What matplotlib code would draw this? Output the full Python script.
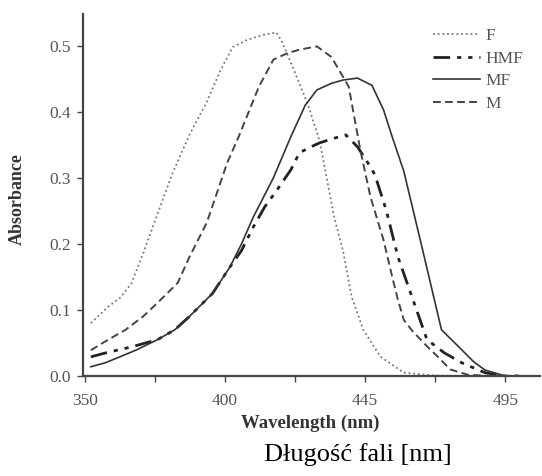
import matplotlib
matplotlib.use("Agg")
import matplotlib.pyplot as plt
import numpy as np

# absorbance spectra
f_x = [352, 358, 362, 366, 370, 375, 380, 386, 392, 397, 401, 406, 412, 416, 418, 422, 427, 431, 436, 439, 442, 446, 452, 460, 470, 480, 490, 502]
f_y = [0.08, 0.105, 0.118, 0.14, 0.185, 0.245, 0.305, 0.365, 0.415, 0.465, 0.498, 0.509, 0.517, 0.52, 0.506, 0.464, 0.41, 0.355, 0.24, 0.19, 0.12, 0.07, 0.029, 0.005, 0.001, 0.0, 0.0, 0.0]

hmf_x = [352, 358, 366, 375, 381, 386, 394, 400, 404, 408, 412, 416, 421, 424, 428, 431, 436, 440, 444, 447, 450, 454, 458, 464, 468, 474, 480, 488, 495, 502]
hmf_y = [0.029, 0.036, 0.044, 0.055, 0.07, 0.09, 0.125, 0.165, 0.19, 0.225, 0.256, 0.28, 0.312, 0.338, 0.347, 0.353, 0.36, 0.365, 0.347, 0.327, 0.305, 0.25, 0.18, 0.105, 0.055, 0.035, 0.02, 0.005, 0.0, 0.0]

mf_x = [352, 357, 362, 368, 375, 381, 386, 394, 400, 404, 408, 415, 421, 426, 430, 435, 439, 444, 449, 453, 456, 460, 466, 473, 479, 484, 488, 495, 502]
mf_y = [0.014, 0.02, 0.029, 0.04, 0.055, 0.07, 0.09, 0.125, 0.165, 0.2, 0.24, 0.30, 0.362, 0.41, 0.433, 0.443, 0.448, 0.451, 0.44, 0.403, 0.362, 0.31, 0.2, 0.07, 0.044, 0.022, 0.009, 0.0, 0.0]

m_x = [352, 358, 364, 370, 376, 382, 386, 392, 399, 403, 410, 415, 420, 424, 430, 435, 437, 441, 445, 448.5, 453, 456, 458, 460, 463, 468, 472, 476, 482, 490, 502]
m_y = [0.039, 0.055, 0.07, 0.09, 0.115, 0.141, 0.18, 0.232, 0.322, 0.362, 0.438, 0.479, 0.489, 0.494, 0.499, 0.483, 0.468, 0.438, 0.342, 0.271, 0.206, 0.15, 0.115, 0.085, 0.068, 0.045, 0.028, 0.01, 0.002, 0.0, 0.0]

x_tick_pos = [350, 398.33, 446.67, 495]
x_tick_labels = ["350", "400", "445", "495"]
y_ticks = [0.0, 0.1, 0.2, 0.3, 0.4, 0.5]

serif = ["Liberation Serif", "DejaVu Serif"]
gray = "#555555"

fig = plt.figure(figsize=(5.42, 4.76), dpi=100)
ax = fig.add_axes([83 / 542, 1 - 376 / 476, (540 - 83) / 542, (376 - 14) / 476])

ax.plot(f_x, f_y, color="#777777", lw=1.3, ls=(0, (1, 1.6)), label="F")
ax.plot(hmf_x, hmf_y, color="#222222", lw=2.0, ls=(0, (6, 2.5, 1.5, 2.5, 1.5, 2.5)), label="HMF")
ax.plot(mf_x, mf_y, color="#333333", lw=1.2, ls="-", label="MF")
ax.plot(m_x, m_y, color="#444444", lw=1.4, ls=(0, (4, 2.2)), label="M")

ax.set_xlim(349.3, 507)
ax.set_ylim(0, 0.548)
ax.set_xticks(x_tick_pos)
ax.set_xticklabels(x_tick_labels)
ax.set_xticks([(a + b) / 2 for a, b in zip(x_tick_pos[:-1], x_tick_pos[1:])], minor=True)
ax.set_yticks(y_ticks)
ax.set_yticklabels([f"{v:.1f}" for v in y_ticks])

for side in ["top", "right"]:
    ax.spines[side].set_visible(False)
for side in ["left", "bottom"]:
    ax.spines[side].set_linewidth(1.6)
    ax.spines[side].set_color("#444444")

ax.tick_params(which="both", direction="out", color="#444444", width=1.0)
ax.tick_params(which="major", length=4, labelsize=12.5, labelcolor=gray)
ax.tick_params(axis="x", which="major", pad=8)
ax.tick_params(axis="y", which="major", pad=5)
ax.tick_params(which="minor", length=4)
for lab in ax.get_xticklabels() + ax.get_yticklabels():
    lab.set_family(serif)

ax.set_ylabel("Absorbance", family=serif, fontsize=13, fontweight="bold", color="#333333")
ax.yaxis.set_label_coords(-0.126, 0.49)
ax.set_xlabel("Wavelength (nm)", family=serif, fontsize=13.5, fontweight="bold", color="#333333")
ax.xaxis.set_label_coords(0.497, -0.108)

fig.text(358 / 542, 1 - 455 / 476, "Długość fali [nm]", family=serif, fontsize=19,
         ha="center", va="center", color="black")

leg = ax.legend(loc="upper left", bbox_to_anchor=(424 / 542, 1 - 19 / 476), bbox_transform=fig.transFigure,
                frameon=False, handlelength=2.75, handletextpad=0.3, labelspacing=0.38, borderpad=0,
                prop={"family": serif, "size": 12.5})
for t in leg.get_texts():
    t.set_color(gray)

fig.savefig("out.png", dpi=100, facecolor="white")
